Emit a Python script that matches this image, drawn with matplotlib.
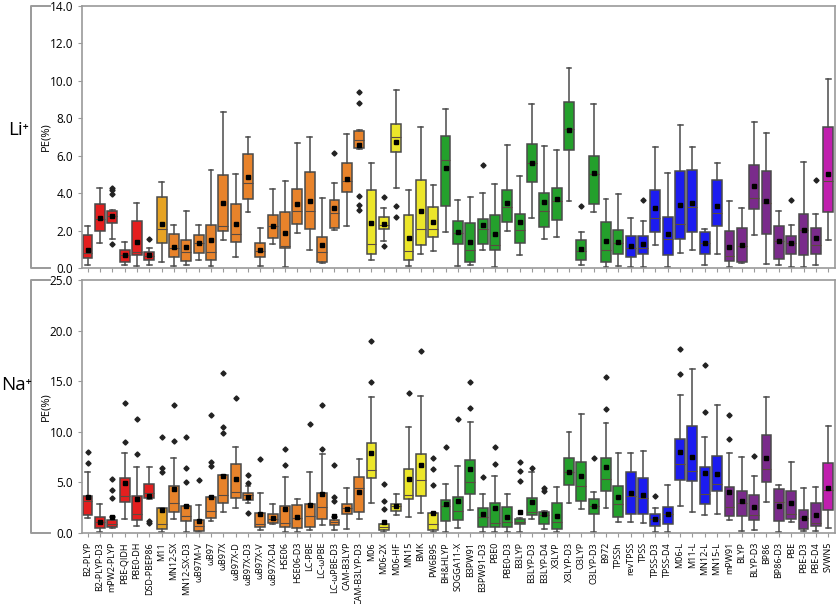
import numpy as np
import matplotlib.pyplot as plt
from matplotlib.lines import Line2D

plt.rcParams['font.family'] = ['Open Sans', 'DejaVu Sans']

names = ["B2-PLYP", "B2-PLYP-D3", "mPW2-PLYP", "PBE-QIDH", "PBE0-DH", "DSD-PBEP86",
         "M11", "MN12-SX", "MN12-SX-D3", "ωB97M-V", "ωB97", "ωB97X", "ωB97X-D",
         "ωB97X-D3", "ωB97X-V", "ωB97X-D4", "HSE06", "HSE06-D3", "LC-PBE", "LC-ωPBE",
         "LC-ωPBE-D3", "CAM-B3LYP", "CAM-B3LYP-D3", "M06", "M06-2X", "M06-HF", "MN15",
         "BMK", "PW6B95", "BH&HLYP", "SOGGA11-X", "B3PW91", "B3PW91-D3", "PBE0",
         "PBE0-D3", "B3LYP", "B3LYP-D3", "B3LYP-D4", "X3LYP", "X3LYP-D3", "O3LYP",
         "O3LYP-D3", "B972", "TPSSh", "revTPSS", "TPSS", "TPSS-D3", "TPSS-D4", "M06-L",
         "M11-L", "MN12-L", "MN15-L", "mPW91", "BLYP", "BLYP-D3", "BP86", "BP86-D3",
         "PBE", "PBE-D3", "PBE-D4", "SVWN5"]

# colour groups (count of functionals per group)
group_colors = ['#e41f1f', '#e6a323', '#e8832b', '#ece62a', '#24a02c', '#1c1cf0', '#7a2b8b', '#c01fae']
group_counts = [6, 1, 16, 6, 15, 8, 8, 1]

# ---- Li+ : whisker low, Q1, median, Q3, whisker high, mean, outliers
li_lo = [0.18, 1.33, 1.57, 0.18, 0.12, 0.14, 0.32, 0.09, 0.14, 0.44, 0.09, 1.51, 0.57, 3.01, 0.12, 1.28,
         0.04, 1.87, 0.98, 0.27, 2.01, 2.22, 6.37, 0.41, 1.42, 4.27, 0.09, 0.75, 0.89, 1.90, 0.12, 0.18,
         0.98, 0.05, 1.99, 0.71, 2.67, 1.57, 1.64, 3.59, 0.14, 2.99, 0.05, 0.09, 0.05, 0.05, 1.25, 0.05,
         0.80, 0.98, 0.14, 0.73, 0.05, 0.27, 1.76, 0.21, 0.14, 0.05, 0.04, 0.14, 1.48]
li_q1 = [0.53, 1.99, 2.40, 0.32, 0.68, 0.44, 1.33, 0.57, 0.39, 0.80, 0.41, 1.96, 1.39, 3.68, 0.57, 1.58,
         1.05, 2.35, 2.08, 0.32, 2.12, 4.06, 6.41, 0.77, 2.10, 6.21, 0.44, 1.25, 1.65, 3.33, 1.28, 0.32,
         1.28, 0.94, 2.47, 1.33, 4.61, 2.19, 2.54, 6.32, 0.41, 3.42, 0.32, 0.75, 0.57, 0.75, 1.90, 0.71,
         1.53, 1.90, 0.77, 2.26, 0.36, 0.30, 3.15, 1.83, 0.48, 0.77, 0.71, 0.77, 2.97]
li_med = [0.80, 2.63, 2.76, 0.71, 0.85, 0.62, 2.10, 1.07, 0.84, 1.33, 0.84, 2.22, 1.83, 4.56, 0.89, 2.22,
          1.16, 3.06, 3.06, 0.85, 2.94, 4.66, 6.85, 1.30, 2.31, 6.99, 0.89, 2.08, 2.08, 5.75, 1.87, 0.98,
          2.08, 1.25, 3.26, 2.05, 5.60, 3.06, 3.56, 7.44, 0.89, 5.02, 0.98, 1.33, 1.07, 1.07, 2.67, 1.55,
          2.35, 3.24, 1.33, 2.94, 0.66, 1.16, 3.72, 3.50, 1.42, 1.33, 2.05, 1.25, 4.63]
li_q3 = [1.76, 3.43, 3.06, 0.98, 2.49, 0.85, 3.77, 1.81, 1.51, 1.78, 2.31, 4.95, 3.43, 6.10, 1.33, 2.81,
         2.97, 4.22, 5.12, 1.65, 3.65, 5.60, 7.33, 4.15, 2.70, 7.70, 2.81, 4.72, 3.27, 7.05, 2.51, 2.40,
         2.63, 2.85, 4.15, 2.86, 6.64, 4.00, 4.29, 8.88, 1.51, 5.96, 2.44, 2.05, 1.69, 1.69, 4.16, 2.74,
         5.16, 5.23, 1.94, 4.70, 1.99, 2.15, 5.52, 5.16, 2.22, 1.69, 2.90, 2.14, 7.51]
li_hi = [2.22, 4.27, 3.11, 1.39, 3.50, 1.07, 4.59, 2.28, 3.02, 2.30, 5.21, 8.36, 5.04, 6.99, 2.14, 4.22,
         4.63, 6.67, 6.99, 3.72, 4.54, 7.15, 7.35, 5.60, 3.20, 9.52, 4.18, 7.53, 4.43, 8.47, 3.65, 3.77,
         4.00, 4.50, 6.55, 4.89, 8.75, 6.51, 6.30, 10.68, 1.90, 8.74, 3.70, 3.93, 2.67, 2.53, 6.49, 5.09,
         7.62, 6.44, 2.10, 5.59, 3.56, 3.20, 7.79, 7.24, 3.06, 2.28, 5.66, 2.88, 10.11]
li_mean = [0.98, 2.65, 2.79, 0.72, 1.39, 0.71, 2.37, 1.12, 1.12, 1.33, 1.51, 3.47, 2.37, 4.88, 0.94, 2.26,
           1.85, 3.43, 3.59, 1.25, 3.19, 4.73, 6.57, 2.40, 2.35, 6.71, 1.58, 3.04, 2.47, 5.36, 1.90, 1.39,
           2.30, 1.80, 3.45, 2.46, 5.62, 3.51, 3.70, 7.37, 1.03, 5.09, 1.42, 1.41, 1.16, 1.28, 3.20, 1.83,
           3.35, 3.47, 1.33, 3.29, 1.14, 1.23, 4.36, 3.59, 1.42, 1.33, 2.05, 1.58, 5.04]
li_out = {2: [4.30, 4.15, 3.97, 1.30], 5: [1.57], 20: [6.16], 22: [9.43, 8.81, 3.83, 3.38, 3.08],
          24: [3.77, 1.19], 25: [3.29, 2.72], 32: [5.48], 40: [3.29], 45: [3.65], 57: [3.65], 59: [4.70]}

# ---- Na+
na_lo = [1.51, 0.13, 0.50, 1.41, 0.69, 3.35, 0.13, 1.35, 0.13, 0.13, 1.22, 2.04, 2.43, 2.93, 0.30, 0.86,
         0.07, 0.07, 0.30, 0.79, 0.30, 0.39, 1.35, 2.93, 0.07, 1.78, 1.55, 1.94, 0.13, 0.07, 0.46, 2.27,
         0.13, 0.13, 0.13, 0.13, 1.35, 0.39, 0.13, 2.93, 2.37, 0.13, 2.43, 1.12, 1.12, 0.95, 0.13, 0.07,
         2.66, 2.10, 1.78, 1.91, 1.25, 0.20, 0.26, 3.09, 0.13, 1.05, 0.20, 0.20, 0.46]
na_q1 = [1.78, 0.46, 0.56, 3.09, 1.28, 3.42, 0.39, 2.11, 1.22, 0.20, 1.51, 2.99, 3.45, 3.26, 0.56, 1.02,
         0.56, 0.46, 0.56, 1.35, 0.79, 1.84, 2.11, 5.46, 0.30, 2.20, 3.32, 3.68, 0.30, 1.18, 1.28, 3.88,
         0.63, 0.63, 0.56, 0.86, 1.78, 0.86, 0.39, 4.74, 3.19, 1.88, 4.14, 1.55, 1.88, 1.88, 0.72, 0.86,
         5.23, 5.13, 2.89, 4.14, 1.71, 1.68, 1.28, 5.03, 1.22, 1.38, 0.39, 0.72, 2.24]
na_med = [3.19, 1.05, 0.86, 3.68, 1.84, 3.91, 0.86, 2.93, 1.71, 0.69, 2.17, 3.75, 4.08, 3.75, 0.89, 1.38,
          0.95, 1.51, 1.71, 2.53, 1.12, 2.43, 4.41, 6.18, 0.63, 2.70, 3.75, 5.23, 0.92, 2.70, 2.17, 5.00,
          1.55, 1.02, 1.12, 1.12, 2.10, 1.78, 1.05, 6.05, 4.67, 2.70, 5.33, 2.83, 3.68, 3.49, 1.38, 1.84,
          6.78, 6.12, 3.85, 4.80, 2.60, 2.99, 1.78, 6.28, 3.03, 1.91, 1.45, 0.95, 4.24]
na_q3 = [3.68, 1.58, 1.25, 5.39, 3.62, 4.80, 2.45, 4.67, 2.66, 1.28, 3.55, 5.69, 6.81, 3.91, 2.00, 1.84,
         2.66, 2.76, 2.83, 3.98, 1.28, 2.83, 5.53, 8.85, 0.86, 2.89, 6.28, 7.76, 1.94, 3.26, 3.55, 7.17,
         2.43, 2.96, 2.60, 1.38, 3.49, 2.10, 2.93, 7.37, 6.97, 3.36, 7.37, 4.64, 6.05, 5.46, 1.84, 2.60,
         9.28, 10.56, 6.48, 7.60, 4.57, 4.14, 3.75, 9.67, 4.34, 4.14, 2.24, 2.93, 6.88]
na_hi = [6.05, 2.89, 1.55, 7.86, 6.55, 6.55, 2.50, 7.37, 2.70, 2.76, 3.60, 5.75, 8.45, 4.64, 3.95, 2.83,
         5.53, 3.39, 6.05, 7.83, 1.60, 4.41, 7.30, 13.45, 0.90, 3.88, 10.50, 13.55, 1.97, 4.84, 6.58, 10.99,
         3.88, 5.59, 3.82, 1.45, 6.02, 2.20, 4.51, 10.00, 11.71, 4.08, 10.89, 7.93, 7.93, 8.09, 2.43, 4.74,
         13.68, 16.25, 9.51, 12.63, 7.93, 7.47, 5.59, 13.39, 4.74, 6.97, 4.41, 4.51, 10.56]
na_mean = [3.52, 1.12, 1.60, 4.97, 3.39, 3.68, 2.30, 4.31, 2.66, 1.22, 3.55, 5.59, 5.36, 3.59, 1.84, 1.51,
           2.34, 1.61, 2.76, 3.85, 1.65, 2.37, 4.08, 7.89, 1.12, 2.70, 5.30, 6.71, 1.94, 2.89, 3.16, 6.32,
           1.84, 2.50, 1.55, 2.10, 3.06, 1.91, 1.71, 6.05, 5.66, 2.70, 6.51, 3.55, 3.98, 3.75, 1.38, 1.84,
           8.03, 7.47, 5.95, 5.79, 4.08, 3.19, 2.60, 7.43, 2.66, 2.99, 1.51, 1.78, 4.41]
na_out = {0: [7.96, 6.88], 2: [5.36, 4.21, 3.45], 3: [12.8, 9.0], 4: [11.3, 7.8], 5: [1.18, 0.95],
          6: [9.44, 6.38, 5.99], 7: [12.6, 9.1], 8: [9.44, 6.45, 5.07], 9: [5.2], 10: [11.7, 6.97, 6.64],
          11: [15.8, 10.5, 9.93], 12: [13.3], 13: [5.72, 4.97, 2.0], 14: [7.34], 16: [8.29, 6.74],
          18: [10.8], 19: [12.6, 8.32], 20: [6.71, 3.52, 3.19], 23: [18.98, 14.93], 24: [4.80, 3.16, 2.37],
          26: [13.8], 27: [17.96], 28: [7.37, 6.28, 4.77], 29: [8.52], 30: [11.25], 31: [14.93, 12.37],
          32: [5.49], 33: [8.49, 6.84], 35: [7.0, 6.09, 5.16], 36: [6.41], 37: [4.41, 4.14], 41: [7.37],
          42: [15.46, 12.27], 46: [3.65], 48: [18.16, 15.76], 50: [16.64, 11.94], 52: [11.68, 9.24],
          54: [7.60]}

colors = [c for c, n in zip(group_colors, group_counts) for _ in range(n)]


def build_stats(lo, q1, med, q3, hi, mean, out):
    stats = []
    for i in range(len(names)):
        stats.append(dict(whislo=lo[i], q1=q1[i], med=med[i], q3=q3[i], whishi=hi[i],
                          mean=mean[i], fliers=out.get(i, [])))
    return stats


edge = '#4a4a4a'
spine_c = '#9a9a9a'


def draw(ax, stats, ymax, ystep, ion, ion_x, ion_ha, ion_y):
    bp = ax.bxp(stats, positions=np.arange(len(names)), widths=0.8, patch_artist=True,
                showmeans=True,
                boxprops=dict(edgecolor=edge, linewidth=1.1),
                whiskerprops=dict(color=edge, linewidth=1.1),
                capprops=dict(color=edge, linewidth=1.1),
                medianprops=dict(color='#5a4a40', linewidth=0.8),
                meanprops=dict(marker='s', markerfacecolor='k', markeredgecolor='k', markersize=2.8),
                flierprops=dict(marker='D', markerfacecolor='#222222', markeredgecolor='#222222',
                                markersize=2.6))
    for patch, c in zip(bp['boxes'], colors):
        patch.set_facecolor(c)
    ax.set_xlim(-0.45, len(names) - 0.45)
    ax.set_ylim(0, ymax)
    ax.set_yticks(np.arange(0, ymax + 0.01, ystep))
    ax.set_yticklabels(['%.1f' % v for v in np.arange(0, ymax + 0.01, ystep)])
    for s in ax.spines.values():
        s.set_color(spine_c)
        s.set_linewidth(1.2)
    ax.tick_params(axis='both', color=spine_c, length=3, width=0.8, labelsize=8.5)
    ax.set_ylabel('PE(%)', fontsize=8)
    ax.yaxis.set_label_coords(-0.041, 0.5)

    # bracket with ion label at the left
    pos = ax.get_position()
    x0 = 31 / 837
    x1 = 50 / 837
    fig.add_artist(Line2D([x1, x0, x0, x1], [pos.y1, pos.y1, pos.y0, pos.y0],
                          transform=fig.transFigure, color=spine_c, linewidth=1.4))
    fig.text(ion_x / 837, 1 - ion_y / 604, ion, fontsize=13.5, ha=ion_ha, va='center')


fig = plt.figure(figsize=(8.37, 6.04), dpi=100)
ax1 = fig.add_axes([82 / 837, 1 - 268 / 604, 753 / 837, 262 / 604])
ax2 = fig.add_axes([82 / 837, 1 - 533 / 604, 753 / 837, 253 / 604])

draw(ax1, build_stats(li_lo, li_q1, li_med, li_q3, li_hi, li_mean, li_out), 14, 2,
     'Li⁺', 29, 'right', 130)
draw(ax2, build_stats(na_lo, na_q1, na_med, na_q3, na_hi, na_mean, na_out), 25, 5,
     'Na⁺', 1, 'left', 385)

ax1.set_xticks(np.arange(len(names)))
ax1.set_xticklabels([])
ax2.set_xticks(np.arange(len(names)))
ax2.set_xticklabels(names, rotation=90, fontsize=6.5)

fig.savefig('out.png', dpi=100)
